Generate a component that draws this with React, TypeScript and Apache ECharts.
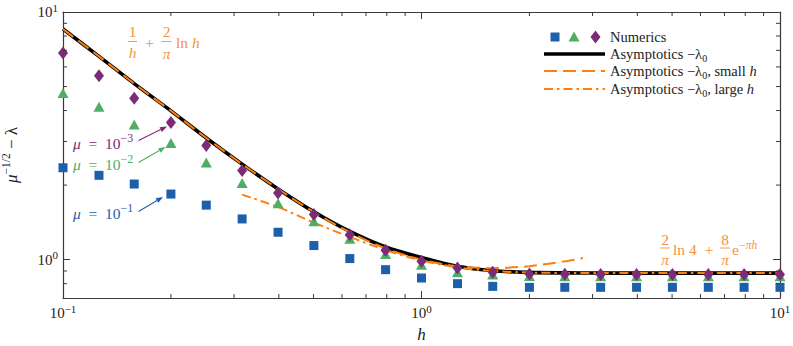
import React, { useEffect, useRef } from 'react';
import * as echarts from 'echarts';

// ---------- data ----------
const hValues = [0.1, 0.126, 0.158, 0.2, 0.251, 0.316, 0.398, 0.501, 0.631, 0.794, 1, 1.26, 1.58, 2, 2.51, 3.16, 3.98, 5.01, 6.31, 7.94, 10];
const numericsMu1e1 = [2.35, 2.19, 2.02, 1.84, 1.66, 1.46, 1.29, 1.14, 1.01, 0.911, 0.843, 0.8, 0.78, 0.773, 0.773, 0.773, 0.773, 0.773, 0.773, 0.773, 0.773];
const numericsMu1e2 = [4.71, 4.14, 3.51, 2.96, 2.47, 2.04, 1.69, 1.43, 1.215, 1.054, 0.954, 0.889, 0.87, 0.858, 0.856, 0.856, 0.856, 0.856, 0.856, 0.856, 0.856];
const numericsMu1e3 = [6.83, 5.53, 4.48, 3.58, 2.89, 2.29, 1.86, 1.52, 1.26, 1.09, 0.985, 0.926, 0.889, 0.875, 0.872, 0.871, 0.871, 0.871, 0.871, 0.871, 0.871];
const asymptoticValues = [8.54, 6.62, 5.14, 3.99, 3.1, 2.43, 1.93, 1.56, 1.3, 1.125, 1.02, 0.94, 0.902, 0.888, 0.884, 0.8826, 0.8825, 0.8825, 0.8825, 0.8825, 0.8825];
const smallHGrid = [0.1, 0.126, 0.158, 0.2, 0.251, 0.316, 0.398, 0.501, 0.631, 0.794, 1, 1.26, 1.58, 2, 2.51, 2.82];
const smallHValues = [8.53, 6.62, 5.14, 3.99, 3.1, 2.43, 1.93, 1.555, 1.29, 1.11, 1.0, 0.941, 0.924, 0.941, 0.984, 1.015];
const largeHGrid = [0.316, 0.398, 0.501, 0.631, 0.794, 1, 1.26, 1.58, 2, 2.51, 3.16, 3.98, 5.01, 6.31, 7.94, 10];
const largeHValues = [1.83, 1.63, 1.41, 1.235, 1.093, 0.9925, 0.931, 0.9, 0.887, 0.8834, 0.8826, 0.8825, 0.8825, 0.8825, 0.8825, 0.8825];
const xRange = [0.1, 10];
const yRange = [0.7, 10];
const xMajorTicks = [0.1, 1, 10];
const xMinorTicks = [0.2, 0.3, 0.4, 0.5, 0.6, 0.7, 0.8, 0.9, 2, 3, 4, 5, 6, 7, 8, 9];
const yMajorTicks = [1, 10];
const yMinorTicks = [0.8, 0.9, 2, 3, 4, 5, 6, 7, 8, 9];

// ---------- styling ----------
const SERIF = '"Liberation Serif", serif';
const AX = '#3a3a3a';
const TXT = '#222222';
const BLUE = '#1c5fab';
const GREEN = '#4eae64';
const PURPLE = '#7b2c77';
const ORANGE = '#ff7f0e';
const ORANGE_T = '#f5923e';
const DASH = [13, 6];
const DASHDOT = [9, 4, 2.5, 4];

const lg = (v: number) => Math.log10(v);

const expRich = {
  b: { fontFamily: SERIF, fontSize: 15, color: TXT, lineHeight: 20, verticalAlign: 'middle' },
  s: { fontFamily: SERIF, fontSize: 11, color: TXT, lineHeight: 12, verticalAlign: 'top' },
};
const expLabel = (v: number) => {
  const e = Math.round(v);
  return `{b|10}{s|${e < 0 ? '−' + -e : e}}`;
};

function muRich(color: string) {
  return {
    i: { fontFamily: SERIF, fontSize: 15.5, fontStyle: 'italic', fill: color, lineHeight: 22, verticalAlign: 'middle' },
    n: { fontFamily: SERIF, fontSize: 15.5, fill: color, lineHeight: 22, verticalAlign: 'middle' },
    s: { fontFamily: SERIF, fontSize: 12, fill: color, lineHeight: 12, verticalAlign: 'top' },
  };
}

function arrow(x1: number, y1: number, x2: number, y2: number, color: string) {
  const dx = x2 - x1, dy = y2 - y1;
  const L = Math.hypot(dx, dy);
  const ux = dx / L, uy = dy / L;
  const hl = 7, hw = 2.6;
  const bx = x2 - ux * hl, by = y2 - uy * hl;
  return [
    { type: 'line', shape: { x1, y1, x2: bx, y2: by }, style: { stroke: color, lineWidth: 1.1 } },
    {
      type: 'polygon',
      shape: { points: [[x2, y2], [bx - uy * hw, by + ux * hw], [bx + uy * hw, by - ux * hw]] },
      style: { fill: color },
    },
  ];
}

function fracText(x: number, yNum: number, yBar: number, yDen: number, num: string, den: string, denItalic: boolean, halfW: number) {
  return [
    { type: 'text', x, y: yNum, style: { text: num, fontFamily: SERIF, fontSize: 15.5, fill: ORANGE_T, align: 'center', verticalAlign: 'middle' } },
    { type: 'line', shape: { x1: x - halfW, y1: yBar, x2: x + halfW, y2: yBar }, style: { stroke: ORANGE_T, lineWidth: 0.9 } },
    { type: 'text', x, y: yDen, style: { text: den, fontFamily: SERIF, fontSize: 15.5, fontStyle: denItalic ? 'italic' : 'normal', fill: ORANGE_T, align: 'center', verticalAlign: 'middle' } },
  ];
}

const legendRich = {
  n: { fontFamily: SERIF, fontSize: 14.5, fill: TXT, lineHeight: 18, verticalAlign: 'middle' },
  i: { fontFamily: SERIF, fontSize: 14.5, fontStyle: 'italic', fill: TXT, lineHeight: 18, verticalAlign: 'middle' },
  sub: { fontFamily: SERIF, fontSize: 10, fill: TXT, lineHeight: 10, verticalAlign: 'bottom' },
};

export default function App() {
  const ref = useRef<HTMLDivElement>(null);

  useEffect(() => {
    if (!ref.current) return;
    const chart = echarts.init(ref.current, undefined, { renderer: 'svg' });

    const baseX = {
      type: 'value',
      min: lg(xRange[0]),
      max: lg(xRange[1]),
      splitLine: { show: false },
    };
    const baseY = {
      type: 'value',
      min: lg(yRange[0]),
      max: lg(yRange[1]),
      splitLine: { show: false },
    };
    const axLine = { show: true, onZero: false, lineStyle: { color: AX, width: 1.2 } };

    const minorTickSeries = (axis: 'x' | 'y') => ({
      type: 'custom',
      coordinateSystem: 'cartesian2d',
      silent: true,
      clip: false,
      z: 20,
      data: axis === 'x' ? xMinorTicks.map((v) => [lg(v), 0]) : yMinorTicks.map((v) => [0, lg(v)]),
      renderItem: (params: any, api: any) => {
        const cs = params.coordSys;
        const st = { stroke: AX, lineWidth: 1 };
        if (axis === 'x') {
          const x = api.coord([api.value(0), 0])[0];
          const top = cs.y, bottom = cs.y + cs.height;
          return {
            type: 'group',
            children: [
              { type: 'line', shape: { x1: x, y1: bottom, x2: x, y2: bottom - 4 }, style: st },
              { type: 'line', shape: { x1: x, y1: top, x2: x, y2: top + 4 }, style: st },
            ],
          };
        }
        const y = api.coord([0, api.value(1)])[1];
        const left = cs.x, right = cs.x + cs.width;
        return {
          type: 'group',
          children: [
            { type: 'line', shape: { x1: left, y1: y, x2: left + 4, y2: y }, style: st },
            { type: 'line', shape: { x1: right, y1: y, x2: right - 4, y2: y }, style: st },
          ],
        };
      },
    });

    const graphic: any[] = [];
    // legend
    const lx0 = 544, lx1 = 605, tx = 610;
    const rows = [37, 54, 71, 89];
    graphic.push({ type: 'rect', shape: { x: 550.5, y: rows[0] - 4.5, width: 9, height: 9 }, style: { fill: BLUE } });
    graphic.push({ type: 'polygon', shape: { points: [[574, rows[0] - 5.5], [579.5, rows[0] + 4.5], [568.5, rows[0] + 4.5]] }, style: { fill: GREEN } });
    graphic.push({ type: 'polygon', shape: { points: [[595.5, rows[0] - 6.5], [600.5, rows[0]], [595.5, rows[0] + 6.5], [590.5, rows[0]]] }, style: { fill: PURPLE } });
    graphic.push({ type: 'line', shape: { x1: lx0, y1: rows[1], x2: lx1, y2: rows[1] }, style: { stroke: '#000', lineWidth: 3.6 } });
    graphic.push({ type: 'line', shape: { x1: lx0, y1: rows[2], x2: lx1, y2: rows[2] }, style: { stroke: ORANGE, lineWidth: 2, lineDash: DASH } });
    graphic.push({ type: 'line', shape: { x1: lx0, y1: rows[3], x2: lx1, y2: rows[3] }, style: { stroke: ORANGE, lineWidth: 2, lineDash: DASHDOT } });
    const legendTexts = [
      '{n|Numerics}',
      '{n|Asymptotics −λ}{sub|0}',
      '{n|Asymptotics −λ}{sub|0}{n|, small }{i|h}',
      '{n|Asymptotics −λ}{sub|0}{n|, large }{i|h}',
    ];
    legendTexts.forEach((t, i) => {
      graphic.push({ type: 'text', x: tx, y: rows[i], style: { text: t, rich: legendRich, align: 'left', verticalAlign: 'middle' } });
    });

    // mu annotations
    const muLabels = [
      { text: '{i|μ}{n|  =  10}{s|−3}', y: 143, color: PURPLE, arrow: [138.5, 140.5, 167, 126.5] },
      { text: '{i|μ}{n|  =  10}{s|−2}', y: 164, color: GREEN, arrow: [138.5, 162.5, 165.5, 147] },
      { text: '{i|μ}{n|  =  10}{s|−1}', y: 213, color: BLUE, arrow: [138.5, 211.5, 163, 197] },
    ];
    muLabels.forEach((m) => {
      graphic.push({ type: 'text', x: 73, y: m.y, style: { text: m.text, rich: muRich(m.color), align: 'left', verticalAlign: 'middle' } });
      graphic.push(...arrow(m.arrow[0], m.arrow[1], m.arrow[2], m.arrow[3], m.color));
    });

    // formula 1: 1/h + 2/pi ln h
    graphic.push(...fracText(132.5, 31.5, 41.5, 52.5, '1', 'h', true, 4.5));
    graphic.push({ type: 'text', x: 149.5, y: 42.5, style: { text: '+', fontFamily: SERIF, fontSize: 15.5, fill: ORANGE_T, align: 'center', verticalAlign: 'middle' } });
    graphic.push(...fracText(166.5, 31.5, 41.5, 53.5, '2', 'π', true, 5));
    graphic.push({
      type: 'text', x: 176, y: 42.5,
      style: { text: '{n|ln }{i|h}', rich: muRich(ORANGE_T), align: 'left', verticalAlign: 'middle' },
    });

    // formula 2: 2/pi ln 4 + 8/pi e^{-pi h}
    graphic.push(...fracText(665, 239.5, 248, 259.5, '2', 'π', true, 5));
    graphic.push({
      type: 'text', x: 673, y: 249.5,
      style: { text: '{n|ln 4}', rich: muRich(ORANGE_T), align: 'left', verticalAlign: 'middle' },
    });
    graphic.push({ type: 'text', x: 709, y: 249.5, style: { text: '+', fontFamily: SERIF, fontSize: 15.5, fill: ORANGE_T, align: 'center', verticalAlign: 'middle' } });
    graphic.push(...fracText(725, 239.5, 248, 259.5, '8', 'π', true, 5));
    graphic.push({
      type: 'text', x: 732, y: 249.5,
      style: { text: '{n|e}{s|−}{si|πh}', rich: { ...muRich(ORANGE_T), si: { fontFamily: SERIF, fontSize: 11.5, fontStyle: 'italic', fill: ORANGE_T, lineHeight: 12, verticalAlign: 'top' } }, align: 'left', verticalAlign: 'middle' },
    });

    const option: any = {
      animation: false,
      backgroundColor: '#ffffff',
      grid: { left: 63, top: 12, width: 717, height: 286, containLabel: false, outerBoundsMode: 'none' },
      xAxis: [
        {
          ...baseX,
          position: 'bottom',
          axisLine: axLine,
          axisTick: { show: true, inside: true, length: 7, customValues: xMajorTicks.map(lg), lineStyle: { color: AX, width: 1 } },
          axisLabel: { show: true, customValues: xMajorTicks.map(lg), formatter: expLabel, rich: expRich, margin: 5 },
          name: 'h',
          nameLocation: 'middle',
          nameGap: 28,
          nameTextStyle: { fontFamily: SERIF, fontSize: 17, fontStyle: 'italic', color: TXT },
        },
        {
          ...baseX,
          position: 'top',
          axisLine: axLine,
          axisTick: { show: true, inside: true, length: 7, customValues: xMajorTicks.map(lg), lineStyle: { color: AX, width: 1 } },
          axisLabel: { show: false },
        },
      ],
      yAxis: [
        {
          ...baseY,
          position: 'left',
          axisLine: axLine,
          axisTick: { show: true, inside: true, length: 7, customValues: yMajorTicks.map(lg), lineStyle: { color: AX, width: 1 } },
          axisLabel: { show: true, customValues: yMajorTicks.map(lg), formatter: expLabel, rich: expRich, margin: 5 },
          name: '{i|μ}{s|−1/2}{n| − λ}',
          nameLocation: 'middle',
          nameRotate: 90,
          nameGap: 41,
          nameTextStyle: {
            rich: {
              i: { fontFamily: SERIF, fontSize: 17, fontStyle: 'italic', color: TXT, lineHeight: 22, verticalAlign: 'middle' },
              n: { fontFamily: SERIF, fontSize: 17, color: TXT, lineHeight: 22, verticalAlign: 'middle' },
              s: { fontFamily: SERIF, fontSize: 11.5, color: TXT, lineHeight: 12, verticalAlign: 'top' },
            },
          },
        },
        {
          ...baseY,
          position: 'right',
          axisLine: axLine,
          axisTick: { show: true, inside: true, length: 7, customValues: yMajorTicks.map(lg), lineStyle: { color: AX, width: 1 } },
          axisLabel: { show: false },
        },
      ],
      series: [
        {
          name: 'Asymptotics −λ0',
          type: 'line',
          xAxisIndex: 0, yAxisIndex: 0,
          data: hValues.map((h, i) => [lg(h), lg(asymptoticValues[i])]),
          smooth: 0.3,
          showSymbol: false, symbol: 'none',
          lineStyle: { color: '#000', width: 3.6, join: 'round' },
          z: 2,
        },
        {
          name: 'Asymptotics −λ0, small h',
          type: 'line',
          data: smallHGrid.map((h, i) => [lg(h), lg(smallHValues[i])]),
          smooth: 0.3,
          showSymbol: false, symbol: 'none',
          lineStyle: { color: ORANGE, width: 2, type: DASH },
          z: 3,
        },
        {
          name: 'Asymptotics −λ0, large h',
          type: 'line',
          data: largeHGrid.map((h, i) => [lg(h), lg(largeHValues[i])]),
          smooth: 0.3,
          showSymbol: false, symbol: 'none',
          lineStyle: { color: ORANGE, width: 2, type: DASHDOT },
          z: 3,
        },
        {
          name: 'μ = 10^-1',
          type: 'scatter',
          data: hValues.map((h, i) => [lg(h), lg(numericsMu1e1[i])]),
          symbol: 'rect', symbolSize: 9,
          itemStyle: { color: BLUE, opacity: 1 },
          z: 4,
        },
        {
          name: 'μ = 10^-2',
          type: 'scatter',
          data: hValues.map((h, i) => [lg(h), lg(numericsMu1e2[i])]),
          symbol: 'triangle', symbolSize: [11, 10],
          itemStyle: { color: GREEN, opacity: 1 },
          z: 5,
        },
        {
          name: 'μ = 10^-3',
          type: 'scatter',
          data: hValues.map((h, i) => [lg(h), lg(numericsMu1e3[i])]),
          symbol: 'diamond', symbolSize: [10, 13],
          itemStyle: { color: PURPLE, opacity: 1 },
          z: 6,
        },
        minorTickSeries('x'),
        minorTickSeries('y'),
      ],
      graphic,
    };

    chart.setOption(option);
    return () => chart.dispose();
  }, []);

  return (
    <div
      ref={ref}
      style={{ position: 'fixed', left: 0, top: 0, width: 793, height: 346, background: '#fff' }}
    />
  );
}
